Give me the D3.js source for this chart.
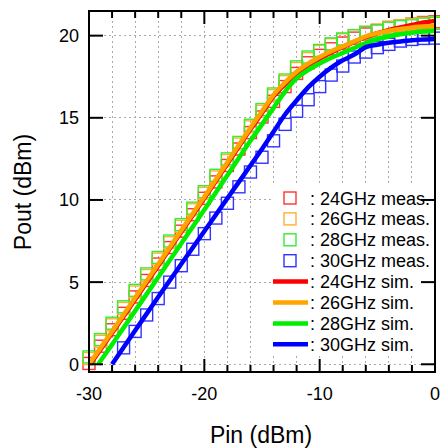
<script src="https://d3js.org/d3.v7.min.js"></script>

<html>
<body style="margin:0;background:#fff">
<div id="myPlot"></div>
</body>
<script>

    const W = 440;
    const H = 448;
    const font = "'Liberation Sans', Arial, sans-serif";

    // measured points, 1 dB steps
    const pinMeas = [-30,-29,-28,-27,-26,-25,-24,-23,-22,-21,-20,-19,-18,-17,-16,-15,-14,-13,-12,-11,-10,-9,-8,-7,-6,-5,-4,-3,-2,-1,0];
    const meas24 = [0.05,1.1,2.1,3.1,4.1,5.1,6.1,7.1,8.1,9.1,10.1,11.1,12.1,13.1,14.1,15.05,16.0,16.9,17.7,18.35,18.8,19.2,19.55,19.85,20.1,20.3,20.5,20.6,20.7,20.8,20.85];
    const meas26 = [0.35,1.4,2.4,3.4,4.4,5.4,6.4,7.4,8.4,9.4,10.4,11.4,12.4,13.4,14.45,15.4,16.35,17.2,18.0,18.6,19.05,19.45,19.75,20.0,20.2,20.35,20.5,20.6,20.7,20.75,20.8];
    const meas28 = [0.45,1.5,2.5,3.5,4.5,5.5,6.5,7.5,8.5,9.5,10.5,11.5,12.5,13.5,14.55,15.5,16.45,17.3,18.1,18.7,19.1,19.5,19.8,20.0,20.2,20.3,20.45,20.55,20.6,20.7,20.75];
    const pinMeas30 = [-27,-26,-25,-24,-23,-22,-21,-20,-19,-18,-17,-16,-15,-14,-13,-12,-11,-10,-9,-8,-7,-6,-5,-4,-3,-2,-1,0];
    const meas30 = [1.0,2.0,3.0,4.0,5.0,6.0,7.0,7.95,8.9,9.8,10.8,11.7,12.6,13.6,14.6,15.4,16.1,16.9,17.6,18.15,18.7,19.0,19.27,19.47,19.67,19.77,19.83,19.85];

    // simulated curves
    const pinSim = [-28,-26,-24,-22,-20,-18,-16,-15,-14,-13,-12,-11,-10,-9,-8,-7,-6,-5,-4,-3,-2,-1,0];
    const sim24 = [1.9,3.95,6.0,8.05,10.1,12.2,14.3,15.3,16.3,17.05,17.7,18.2,18.6,18.97,19.3,19.62,19.92,20.15,20.35,20.5,20.65,20.8,20.9];
    const sim26 = [2.0,4.05,6.1,8.15,10.2,12.3,14.4,15.4,16.4,17.15,17.8,18.3,18.7,19.05,19.35,19.65,19.95,20.15,20.3,20.4,20.5,20.55,20.6];
    const sim28 = [1.2,3.25,5.3,7.35,9.4,11.5,13.6,14.6,15.6,16.6,17.4,17.9,18.3,18.65,18.95,19.25,19.55,19.78,19.95,20.08,20.18,20.25,20.3];
    const sim30 = [0,2.05,4.1,6.1,8.1,10.1,12.1,13.1,14.15,15.2,16.05,16.85,17.5,18.05,18.5,18.85,19.3,19.45,19.57,19.65,19.72,19.77,19.8];
    // start point (Pout = 0) of each sim curve
    const simStart = [[-29.9, 0], [-30, 0], [-29.2, 0], [-28, 0]];

    const xTicks = [-30,-28,-26,-24,-22,-20,-18,-16,-14,-12,-10,-8,-6,-4,-2,0];
    const xLabels = [-30,-20,-10,0];
    const yTicks = [0,5,10,15,20];

    const names = ['24GHz', '26GHz', '28GHz', '30GHz'];
    const measColors = ['#ff3333', '#ffb030', '#33ee33', '#3333ff'];
    const simColors = ['#ff0000', '#ffa500', '#00ee00', '#0000ff'];

    const x = d3.scaleLinear().domain([-30, 0]).range([89, 435]);
    const y = d3.scaleLinear().domain([-0.47, 21.5]).range([372, 11]);

    const svg = d3.select("#myPlot").append("svg")
        .attr("width", W).attr("height", H)
        .style("font-family", font);

    // grid
    const grid = svg.append("g").attr("stroke", "#aaa").attr("stroke-width", 1)
        .attr("stroke-dasharray", "2,3").attr("shape-rendering", "crispEdges");
    grid.selectAll("line.v").data(xTicks.filter(d => d > -30 && d < 0)).enter().append("line")
        .attr("x1", d => x(d)).attr("x2", d => x(d)).attr("y1", y.range()[1]).attr("y2", y.range()[0]);
    grid.selectAll("line.h").data(yTicks).enter().append("line")
        .attr("y1", d => y(d)).attr("y2", d => y(d)).attr("x1", x.range()[0]).attr("x2", x.range()[1]);

    // legend background hides grid
    svg.append("rect").attr("x", 272).attr("y", 186).attr("width", 161).attr("height", 170).attr("fill", "#fff");

    // measured squares
    const measSets = [
        {pin: pinMeas, v: meas24},
        {pin: pinMeas, v: meas26},
        {pin: pinMeas, v: meas28},
        {pin: pinMeas30, v: meas30},
    ];
    const sq = 12;
    measSets.forEach((s, i) => {
        svg.append("g").selectAll("rect").data(s.pin.map((p, k) => [p, s.v[k]])).enter().append("rect")
            .attr("x", d => x(d[0]) - sq/2)
            .attr("y", d => y(d[1]) - sq/2)
            .attr("width", sq).attr("height", sq)
            .attr("fill", "none")
            .attr("stroke", measColors[i])
            .attr("stroke-width", 1.4);
    });

    // sim lines
    const line = d3.line().x(d => x(d[0])).y(d => y(d[1])).curve(d3.curveMonotoneX);
    const simSets = [sim24, sim26, sim28, sim30];
    [0, 2, 1, 3].forEach(i => {
        const pts = [simStart[i]].concat(pinSim.map((p, k) => [p, simSets[i][k]]).filter(d => d[0] > simStart[i][0]));
        svg.append("path").datum(pts)
            .attr("d", line)
            .attr("fill", "none")
            .attr("stroke", simColors[i])
            .attr("stroke-width", 4.5);
    });

    // frame
    svg.append("rect").attr("x", 89).attr("y", 11).attr("width", 346).attr("height", 361)
        .attr("fill", "none").attr("stroke", "#000").attr("stroke-width", 2);

    // ticks (inward, both sides)
    const tk = svg.append("g").attr("stroke", "#000").attr("stroke-width", 2);
    xTicks.forEach(d => {
        const len = xLabels.includes(d) ? 13 : 7;
        tk.append("line").attr("x1", x(d)).attr("x2", x(d)).attr("y1", 372).attr("y2", 372 - len);
        tk.append("line").attr("x1", x(d)).attr("x2", x(d)).attr("y1", 11).attr("y2", 11 + len);
    });
    yTicks.forEach(d => {
        tk.append("line").attr("x1", 89).attr("x2", 89 + 14).attr("y1", y(d)).attr("y2", y(d));
        tk.append("line").attr("x1", 435).attr("x2", 435 - 14).attr("y1", y(d)).attr("y2", y(d));
    });

    // tick labels
    svg.append("g").selectAll("text").data(xLabels).enter().append("text")
        .attr("x", d => x(d)).attr("y", 400)
        .attr("text-anchor", "middle").attr("font-size", 18)
        .text(d => d);
    svg.append("g").selectAll("text").data(yTicks).enter().append("text")
        .attr("x", 79).attr("y", d => y(d) + 6.5)
        .attr("text-anchor", "end").attr("font-size", 18)
        .text(d => d);

    // axis titles
    svg.append("text").attr("x", 261).attr("y", 443).attr("text-anchor", "middle")
        .attr("font-size", 23).text("Pin (dBm)");
    svg.append("text").attr("transform", "translate(31,192) rotate(-90)").attr("text-anchor", "middle")
        .attr("font-size", 23).text("Pout (dBm)");

    // legend
    const lg = svg.append("g");
    const ly0 = 198, ldy = 20.9;
    names.forEach((n, i) => {
        const yy = ly0 + i * ldy;
        lg.append("rect").attr("x", 290 - sq/2).attr("y", yy - sq/2).attr("width", sq).attr("height", sq)
            .attr("fill", "none").attr("stroke", measColors[i]).attr("stroke-width", 1.4);
        lg.append("text").attr("x", 310).attr("y", yy + 6.5).attr("font-size", 18).text(": " + n + " meas.");
    });
    names.forEach((n, i) => {
        const yy = ly0 + (i + 4) * ldy;
        lg.append("line").attr("x1", 273).attr("x2", 308).attr("y1", yy).attr("y2", yy)
            .attr("stroke", simColors[i]).attr("stroke-width", 4.5);
        lg.append("text").attr("x", 310).attr("y", yy + 6.5).attr("font-size", 18).text(": " + n + " sim.");
    });
</script>
</html>
